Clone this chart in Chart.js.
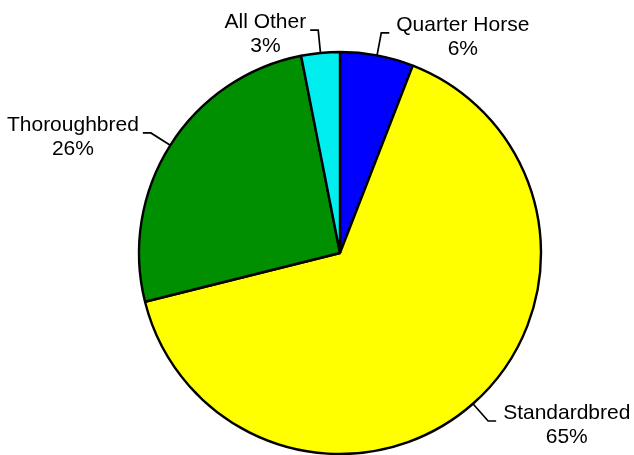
<!DOCTYPE html>
<html>
<head>
<meta charset="utf-8">
<script src="https://cdn.jsdelivr.net/npm/chart.js@4"></script>
<style>
  html, body { margin: 0; padding: 0; background: #fff; }
  canvas { display: block; }
</style>
</head>
<body>
<canvas id="pie" width="634" height="455"></canvas>
<script>
// slice data, clockwise from 12 o'clock
const breeds = ['Quarter Horse', 'Standardbred', 'Thoroughbred', 'All Other'];
const shares = [5.9, 65.2, 25.8, 3.1];
const shareLabels = ['6%', '65%', '26%', '3%'];
const sliceColors = ['#0000ff', '#ffff00', '#008f00', '#00eeee'];

// draws "name / pct" callouts with a bent leader line at each slice's middle
const calloutPlugin = {
    id: 'callouts',
    afterDatasetsDraw(chart) {
        const ctx = chart.ctx;
        const meta = chart.getDatasetMeta(0);
        ctx.save();
        ctx.font = '21px "Liberation Sans", Arial, sans-serif';
        ctx.fillStyle = '#000';
        ctx.strokeStyle = '#000';
        ctx.lineWidth = 1.7;
        ctx.textBaseline = 'alphabetic';
        meta.data.forEach((arc, i) => {
            const mid = (arc.startAngle + arc.endAngle) / 2;
            const cos = Math.cos(mid), sin = Math.sin(mid);
            const r = arc.outerRadius;
            const x0 = arc.x + cos * r, y0 = arc.y + sin * r;
            const x1 = arc.x + cos * (r + 23), y1 = arc.y + sin * (r + 23);
            const right = cos >= 0;
            const x2 = x1 + (right ? 8 : -8);
            ctx.beginPath();
            ctx.moveTo(x0, y0);
            ctx.lineTo(x1, y1);
            ctx.lineTo(x2, y1);
            ctx.stroke();

            const lines = [breeds[i], shareLabels[i]];
            const w = Math.max(...lines.map(t => ctx.measureText(t).width));
            const cx = right ? x2 + 7 + w / 2 : x2 - 4 - w / 2;
            ctx.textAlign = 'center';
            ctx.fillText(lines[0], cx, y1 - 2);
            ctx.fillText(lines[1], cx, y1 + 22);
        });
        ctx.restore();
    }
};

new Chart(document.getElementById('pie'), {
    type: 'pie',
    data: {
        labels: breeds,
        datasets: [{
            data: shares,
            backgroundColor: sliceColors,
            borderColor: '#000',
            borderWidth: 2.4
        }]
    },
    options: {
        responsive: false,
        animation: false,
        radius: 201,
        layout: { padding: { top: 52, bottom: 1, left: 96, right: 50 } },
        plugins: {
            legend: { display: false },
            tooltip: { enabled: false }
        }
    },
    plugins: [calloutPlugin]
});
</script>
</body>
</html>
